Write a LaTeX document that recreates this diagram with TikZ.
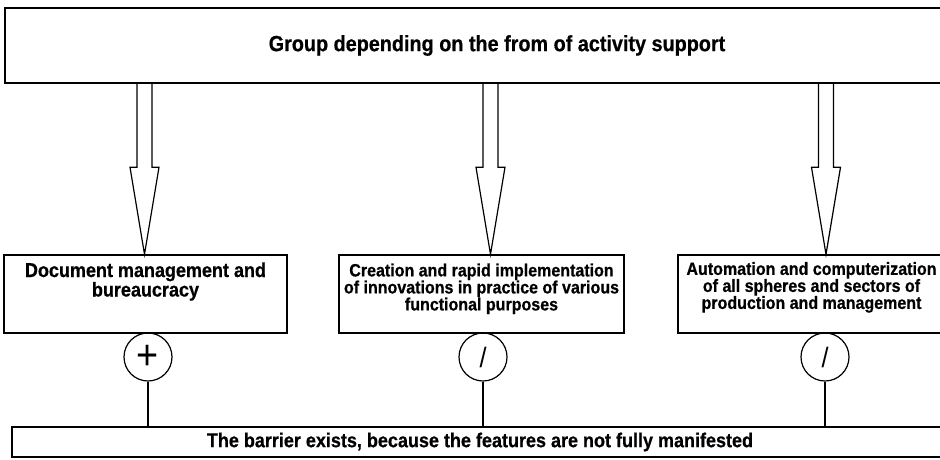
\documentclass[tikz,border=0pt]{standalone}
\usepackage{fontspec}
\setmainfont{Liberation Sans}[FakeStretch=0.9, BoldFeatures={FakeStretch=0.9, FakeBold=0.6}]
\usetikzlibrary{calc}
\usetikzlibrary{positioning}
\tikzset{
	>=latex,
	panel/.style={draw, line width=1.4pt, inner sep=0pt},
	paneltext/.style={inner sep=0pt, align=center, font=\bfseries\fontsize{17.8}{17}\selectfont},
	sign/.style={draw, circle, line width=1.2pt, minimum size=48pt, inner sep=0pt},
	link/.style={line width=1.2pt},
	hollow/.style={line width=1.2pt, line join=miter}
}
\newcommand{\hollowarrow}[2]{%
	\draw[hollow] let \p1=(#1), \p2=(#2) in
		(\x1-7.5pt,\y1) -- (\x1-7.5pt,\y2+87pt) -- (\x1-14.5pt,\y2+87pt) -- (\x2,\y2)
		-- (\x1+14.5pt,\y2+87pt) -- (\x1+7.5pt,\y2+87pt) -- (\x1+7.5pt,\y1);
}

\begin{document}
\begin{tikzpicture}[x=1pt, y=-1pt]
	%\draw[help lines] (0,0) grid (940,459);
	\useasboundingbox (0,0) rectangle (940,459);
	\clip (0,0) rectangle (940,459);

	\node[panel, minimum width=984pt, minimum height=75pt, font=\bfseries\fontsize{22}{24}\selectfont] (group) at (497,45.5) {Group depending on the from of activity support};

	\node[panel, minimum width=283pt, minimum height=78pt] (doc) at (145.5,294) {};
	\node[panel, minimum width=285pt, minimum height=78pt] (innov) at (481.5,294) {};
	\node[panel, minimum width=267pt, minimum height=78pt] (auto) at (811.5,294) {};

	\node[paneltext, font=\bfseries\fontsize{20}{19.5}\selectfont, below=8pt of doc.north] (doctext) {Document management and\\bureaucracy};
	\node[paneltext, below=9pt of innov.north] (innovtext) {Creation and rapid implementation\\of innovations in practice of various\\functional purposes};
	\node[paneltext, below=7.5pt of auto.north] (autotext) {Automation and computerization\\of all spheres and sectors of\\production and management};

	\node[panel, minimum width=936pt, minimum height=30pt, font=\bfseries\fontsize{20}{22}\selectfont] (barrier) at (480,442) {The barrier exists, because the features are not fully manifested};

	\node[sign, font=\fontsize{42}{42}\selectfont] (plus) at (148,357) {+};
	\node[sign, font=\fontsize{28}{28}\selectfont] (slashA) at (483,357) {/};
	\node[sign, font=\fontsize{28}{28}\selectfont] (slashB) at (825,357) {/};

	\draw[link] (plus) -- (plus |- barrier.north);
	\draw[link] (slashA) -- (slashA |- barrier.north);
	\draw[link] (slashB) -- (slashB |- barrier.north);

	\coordinate (s1) at (144.5,0);
	\coordinate (s2) at (490.5,0);
	\coordinate (s3) at (826,0);
	\hollowarrow{group.south -| s1}{doc.north -| s1}
	\hollowarrow{group.south -| s2}{innov.north -| s2}
	\hollowarrow{group.south -| s3}{auto.north -| s3}

\end{tikzpicture}
\end{document}
